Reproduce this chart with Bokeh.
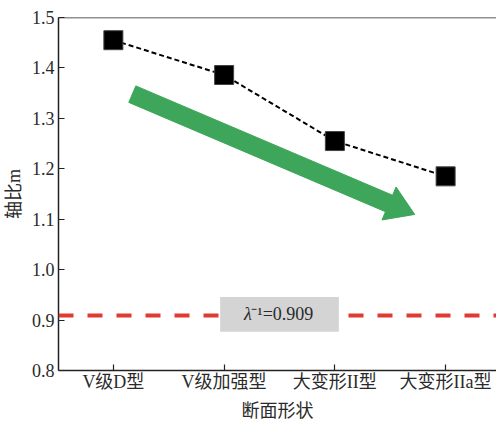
import math
from bokeh.plotting import figure
from bokeh.models import Span, BoxAnnotation, Label, FixedTicker, Range1d
from bokeh.embed import file_html
from bokeh.resources import INLINE

# ---- data ----
categories = ["V级D型", "V级加强型", "大变形II型", "大变形IIa型"]
axis_ratio = [1.455, 1.386, 1.255, 1.185]
lambda_inv = 0.909
y_ticks = [0.8, 0.9, 1.0, 1.1, 1.2, 1.3, 1.4, 1.5]
y_tick_labels = ["0.8", "0.9", "1.0", "1.1", "1.2", "1.3", "1.4", "1.5"]
lambda_text = "⁻¹=0.909"
x_label = "断面形状"
y_label = "轴比m"

FONT = "Liberation Serif, Noto Sans CJK SC"
TEXT_COLOR = "#2a2a2a"

xs = list(range(len(categories)))

p = figure(width=496, height=423, output_backend="svg", toolbar_location=None,
           x_range=Range1d(-0.4955, 3.4595), y_range=Range1d(0.8, 1.5),
           min_border_left=57, min_border_right=0, min_border_top=17,
           min_border_bottom=51)
p.outline_line_color = None
p.grid.visible = False
p.background_fill_color = "white"
p.border_fill_color = "white"

# top frame line
p.add_layout(Span(location=1.5, dimension="width", line_color="#222222", line_width=1.5))

# red reference line
p.add_layout(Span(location=lambda_inv, dimension="width", line_color="#e03a33",
                  line_width=4, line_dash="15 14"))

# grey label box
p.add_layout(BoxAnnotation(left=0.964, right=2.036, bottom=0.8768, top=0.9459,
                           fill_color="#d4d4d4", fill_alpha=1.0, line_color=None))
p.add_layout(Label(x=1.18, y=lambda_inv + 0.0025, text="λ", text_font=FONT,
                   text_font_style="italic", text_font_size="18px",
                   text_color=TEXT_COLOR, text_baseline="middle", text_align="left"))
p.add_layout(Label(x=1.245, y=lambda_inv + 0.0025, text=lambda_text, text_font=FONT,
                   text_font_size="18px", text_color=TEXT_COLOR,
                   text_baseline="middle", text_align="left"))

# green trend arrow (polygon built in screen-proportional units)
sx, sy = 111.0, 507.1
tail = (0.171, 1.348)
tip = (2.721, 1.1095)
dxp = (tip[0] - tail[0]) * sx
dyp = (tip[1] - tail[1]) * sy
L = math.hypot(dxp, dyp)
ux, uy = dxp / L, dyp / L
nx, ny = -uy, ux
shaft_hw, head_hw, head_len = 9.0, 18.0, 28.0
bx, by = ux * (L - head_len), uy * (L - head_len)
pts = [
    (nx * shaft_hw, ny * shaft_hw),
    (bx + nx * shaft_hw, by + ny * shaft_hw),
    (bx + nx * head_hw, by + ny * head_hw),
    (dxp, dyp),
    (bx - nx * head_hw, by - ny * head_hw),
    (bx - nx * shaft_hw, by - ny * shaft_hw),
    (-nx * shaft_hw, -ny * shaft_hw),
]
ax = [tail[0] + px / sx for px, py in pts]
ay = [tail[1] + py / sy for px, py in pts]
p.patch(ax, ay, fill_color="#3ea65a", line_color="#3ea65a", line_width=1)

# data series
p.line(xs, axis_ratio, line_dash="5 3", line_width=2, line_color="black")
p.scatter(xs, axis_ratio, marker="square", size=19, fill_color="black",
          line_color="#444444", line_width=1)

# axes
for ax_ in (p.xaxis[0], p.yaxis[0]):
    ax_.axis_line_color = "#222222"
    ax_.axis_line_width = 1.5
    ax_.major_tick_line_color = "#222222"
    ax_.major_tick_line_width = 1.2
    ax_.major_tick_in = 6
    ax_.major_tick_out = 0
    ax_.minor_tick_line_color = None
    ax_.major_label_text_font = FONT
    ax_.major_label_text_font_size = "18px"
    ax_.major_label_text_color = TEXT_COLOR
    ax_.axis_label_text_font = FONT
    ax_.axis_label_text_font_size = "18px"
    ax_.axis_label_text_font_style = "normal"
    ax_.axis_label_text_color = TEXT_COLOR

p.xaxis.ticker = FixedTicker(ticks=xs)
p.xaxis.major_label_overrides = {i: c for i, c in zip(xs, categories)}
p.xaxis.axis_label = x_label
p.xaxis.major_label_standoff = 1
p.xaxis.axis_label_standoff = 6

p.yaxis.ticker = FixedTicker(ticks=y_ticks)
p.yaxis.major_label_overrides = {t: s for t, s in zip(y_ticks, y_tick_labels)}
p.yaxis.major_label_standoff = 4
p.yaxis.axis_label = y_label
p.yaxis.axis_label_standoff = 5

open("out.html", "w").write(file_html(p, INLINE))
